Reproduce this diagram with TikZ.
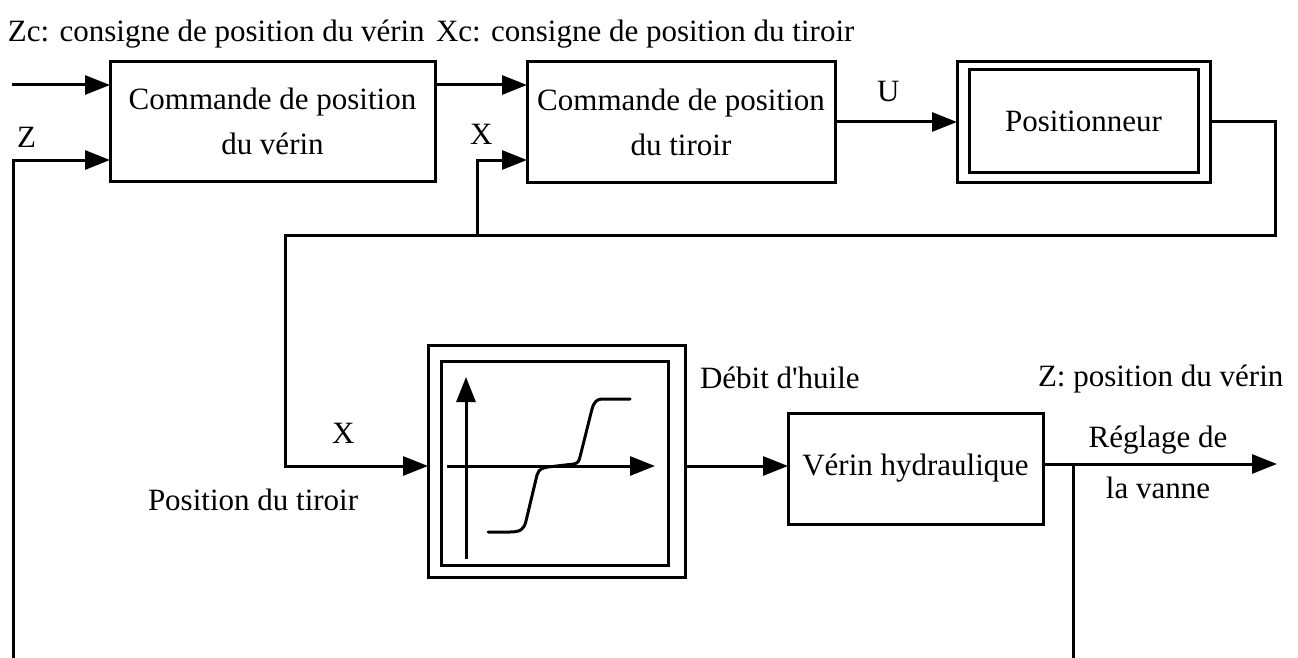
\documentclass[tikz,border=0pt]{standalone}
\usepackage{fontspec}
\setmainfont{Liberation Serif}
\usepackage{xcolor}
\usetikzlibrary{arrows.meta}

\begin{document}
\begin{tikzpicture}[x=1pt,y=-1pt,line cap=rect,
  txt/.style={inner sep=0, outer sep=0, custcol_0_0_0, font=\fontsize{31pt}{45pt}\selectfont},
  block/.style={txt, draw, line width=3.0pt, align=center},
  wire/.style={line width=3.0pt, custcol_0_0_0},
  flow/.style={wire, -{Triangle[length=25pt,width=19pt]}}]
\definecolor{custcol_0_0_0}{RGB}{0, 0, 0}
\useasboundingbox (0,0) rectangle (1298,658);
% blocks
\node[block, minimum width=325pt, minimum height=119pt] (cmdV) at (272.5,121.5) {Commande de position\\du vérin};
\node[block, minimum width=308pt, minimum height=120pt] (cmdT) at (681.0,122.0) {Commande de position\\du tiroir};
\node[block, minimum width=253pt, minimum height=120pt] (posit) at (1083.5,122.0) {};
\node[block, minimum width=229pt, minimum height=102pt] (positIn) at (1083.5,121.0) {Positionneur};
\node[block, minimum width=257pt, minimum height=232pt] (caract) at (556.5,461.0) {};
\node[block, minimum width=227pt, minimum height=204pt] (caractIn) at (554.5,463.0) {};
\node[block, minimum width=255pt, minimum height=111pt] (verin) at (915.5,468.5) {Vérin hydraulique};
% texts
\node[txt, anchor=base west] (tZc) at (8.0,42.0) {Zc: consigne de position du vérin};
\node[txt, anchor=base west] (tXc) at (436.0,42.0) {Xc: consigne de position du tiroir};
\node[txt, anchor=base west] (tZ) at (17.0,147.0) {Z};
\node[txt, anchor=base west] (tX) at (470.0,145.0) {X};
\node[txt, anchor=base west] (tU) at (877.0,102.0) {U};
\node[txt, anchor=base west] (tX2) at (332.0,443.0) {X};
\node[txt, anchor=base west] (tPos) at (148.0,510.0) {Position du tiroir};
\node[txt, anchor=base west] (tDeb) at (700.0,388.0) {Débit d\textquotesingle huile};
\node[txt, anchor=base west] (tZv) at (1038.0,386.0) {Z: position du vérin};
\node[txt, anchor=base] (tReg) at (1158.0,447.0) {Réglage de};
\node[txt, anchor=base] (tVan) at (1158.0,498.0) {la vanne};
% points
\coordinate (zcIn) at (13.0,85.0);
\coordinate (zFb) at (13.0,658.0);
\coordinate (zIn) at (13.0,160.0);
\coordinate (xIn) at (477.0,160.0);
\coordinate (xSplit) at (477.0,235.0);
\coordinate (fbRight) at (1275.0,235.0);
\coordinate (fbLeft) at (285.0,235.0);
\coordinate (xGraph) at (285.0,466.0);
\coordinate (zOut) at (1277.0,464.0);
\coordinate (zSplit) at (1073.0,464.0);
\coordinate (zBot) at (1073.0,658.0);
% connections
\draw[flow] (zcIn) -- (zcIn -| cmdV.west);
\draw[flow] (zFb) -- (zIn) -- (zIn -| cmdV.west);
\draw[flow] (cmdV.east |- zcIn) -- (cmdT.west |- zcIn);
\draw[flow] (cmdT.east) -- (posit.west);
\draw[wire] (posit.east) -| (fbRight) -- (fbLeft);
\draw[flow] (fbLeft) -- (xGraph) -- (xGraph -| caract.west);
\draw[wire] (xSplit) -- (xIn);
\draw[flow] (xIn) -- (xIn -| cmdT.west);
\draw[flow] (xGraph -| caract.east) -- (xGraph -| verin.west);
\draw[flow] (verin.east |- zOut) -- (zOut);
\draw[wire] (zSplit) -- (zBot);
% characteristic
\draw[flow] (466.0,557.0) -- (466.0,377.0);
\draw[flow] (448.0,466.0) -- (655.0,466.0);
\draw[wire, line cap=round, line join=round] (488.0,532.0) -- (510.0,532.0) .. controls (521.0,532.0) and (524.0,529.0) .. (526.0,521.0) -- (537.0,475.0) .. controls (539.0,469.0) and (542.0,468.0) .. (548.0,467.0) -- (574.0,464.0) .. controls (578.0,463.0) and (579.0,461.0) .. (580.0,457.0) -- (592.0,409.0) .. controls (594.0,402.0) and (597.0,399.0) .. (602.0,399.0) -- (630.0,399.0);
\end{tikzpicture}
\end{document}
